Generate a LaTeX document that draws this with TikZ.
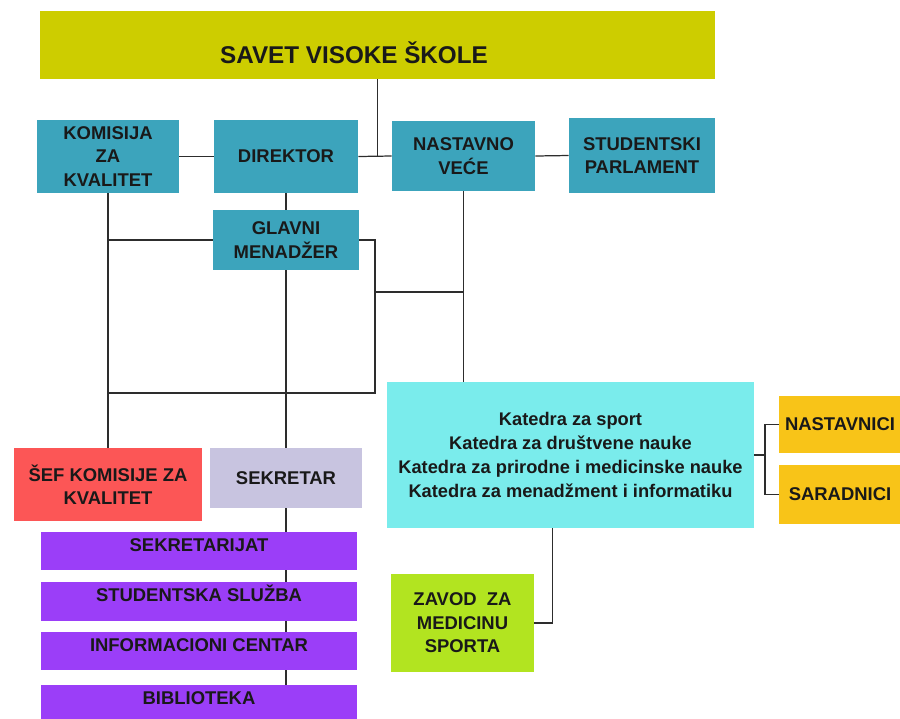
\documentclass[tikz,border=0pt]{standalone}
\usepackage{fontspec}
\setmainfont{Liberation Sans}
\usetikzlibrary{positioning}

\definecolor{savetcol}{RGB}{205,205,0}
\definecolor{tealcol}{RGB}{60,164,188}
\definecolor{katcol}{RGB}{122,236,236}
\definecolor{orangecol}{RGB}{248,196,24}
\definecolor{redcol}{RGB}{252,86,86}
\definecolor{lavcol}{RGB}{200,196,224}
\definecolor{purpcol}{RGB}{155,62,248}
\definecolor{greencol}{RGB}{178,228,32}
\definecolor{linecol}{RGB}{45,45,45}
\definecolor{txtcol}{RGB}{25,25,25}

\begin{document}
\begin{tikzpicture}[x=0.02cm, y=-0.02cm,
        box/.style={font=\bfseries\fontsize{10.5}{13.3}\selectfont, text=txtcol, align=center, inner sep=2pt},
        purpbox/.style={box, fill=purpcol, minimum width=6.32cm, text height=8pt, text depth=8pt},
        conn/.style={draw=linecol, line width=0.7pt}]
        \useasboundingbox (0,0) rectangle (900,718);

        % top
        \node[box, fill=savetcol, minimum width=13.5cm, minimum height=1.36cm] (savet) at (377.5,45) {};
        \node[font=\bfseries\fontsize{13.8}{16}\selectfont, text=txtcol] (savettext) at (354,53) {SAVET VISOKE ŠKOLE};

        \node[box, fill=tealcol, minimum width=2.84cm, minimum height=1.46cm] (komisija) at (108,156.5) {KOMISIJA\\ZA\\KVALITET};
        \node[box, fill=tealcol, minimum width=2.88cm, minimum height=1.46cm] (direktor) at (286,156.5) {DIREKTOR};
        \node[box, fill=tealcol, minimum width=2.86cm, minimum height=1.40cm] (nastavno) at (463.5,156) {NASTAVNO\\VEĆE};
        \node[box, fill=tealcol, minimum width=2.92cm, minimum height=1.50cm] (studentski) at (642,155.5) {STUDENTSKI\\PARLAMENT};
        \node[box, fill=tealcol, minimum width=2.92cm, minimum height=1.20cm] (glavni) at (286,240) {GLAVNI\\MENADŽER};

        % katedre
        \node[box, fill=katcol, minimum width=7.34cm, minimum height=2.92cm, font=\bfseries\fontsize{10.4}{13.6}\selectfont] (katedre) at (570.5,455)
            {Katedra za sport\\Katedra za društvene nauke\\Katedra za prirodne i medicinske nauke\\Katedra za menadžment i informatiku};
        \node[box, fill=orangecol, minimum width=2.44cm, minimum height=1.14cm] (nastavnici) at (840,424.5) {NASTAVNICI};
        \node[box, fill=orangecol, minimum width=2.44cm, minimum height=1.18cm] (saradnici) at (840,494.5) {SARADNICI};
        \node[box, fill=greencol, minimum width=2.86cm, minimum height=1.96cm] (zavod) at (462.5,623) {ZAVOD~ ZA\\MEDICINU\\SPORTA};

        % bottom left
        \node[box, fill=redcol, minimum width=3.78cm, minimum height=1.46cm] (sef) at (108,484.5) {ŠEF KOMISIJE ZA\\KVALITET};
        \node[box, fill=lavcol, minimum width=3.06cm, minimum height=1.20cm] (sekretar) at (286,478) {SEKRETAR};
        \node[purpbox, minimum height=0.76cm] (sekr) at (199,551) {SEKRETARIJAT};
        \node[purpbox, minimum height=0.78cm] (sluzba) at (199,601.5) {STUDENTSKA SLUŽBA};
        \node[purpbox, minimum height=0.76cm] (info) at (199,651) {INFORMACIONI CENTAR};
        \node[purpbox, minimum height=0.76cm] (bibl) at (199,704) {BIBLIOTEKA};

        \coordinate (gr) at (375,393);
        \coordinate (gm) at (375,292);
        \coordinate (br) at (765,455);

        % lines
        \draw[conn] (savet.south) -- (savet.south |- direktor.east);
        \draw[conn] (komisija.east) -- (direktor.west);
        \draw[conn] (direktor.east) -- (nastavno.west);
        \draw[conn] (nastavno.east) -- (studentski.west);
        \draw[conn] (direktor.south) -- (glavni.north);
        \draw[conn] (komisija.south) -- (sef.north);
        \draw[conn] (glavni.west) -- (glavni.west -| komisija.south);
        \draw[conn] (glavni.east) -| (gr) -- (gr -| komisija.south);
        \draw[conn] (gm) -- (gm -| nastavno.south);
        \draw[conn] (nastavno.south) -- (nastavno.south |- katedre.north);
        \draw[conn] (glavni.south) -- (sekretar.north);
        \foreach \a/\b in {sekretar/sekr, sekr/sluzba, sluzba/info, info/bibl}
            \draw[conn] (\a.south -| sekretar.south) -- (\b.north -| sekretar.south);
        \draw[conn] (katedre.east) -- (br);
        \draw[conn] (nastavnici.west) -| (br) |- (saradnici.west);
        \draw[conn] (zavod.east) -| ([xshift=-0.36cm]katedre.south);
\end{tikzpicture}
\end{document}
